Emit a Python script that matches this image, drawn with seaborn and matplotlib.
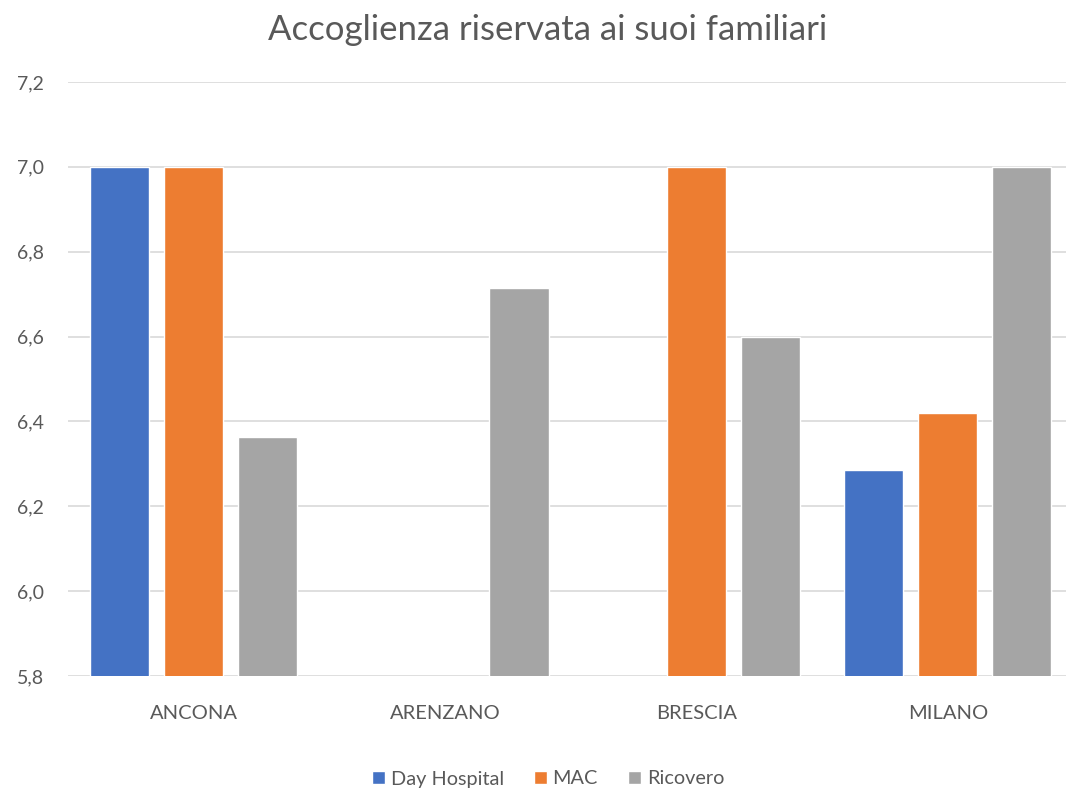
import numpy as np
import pandas as pd
import matplotlib
matplotlib.use("Agg")
import matplotlib.pyplot as plt
import seaborn as sns
from matplotlib.ticker import FuncFormatter, MultipleLocator

# dati
sedi = ["ANCONA", "ARENZANO", "BRESCIA", "MILANO"]
day_hospital = [7.0, np.nan, np.nan, 6.286]
mac = [7.0, np.nan, 7.0, 6.421]
ricovero = [6.364, 6.714, 6.6, 7.0]
serie = ["Day Hospital", "MAC", "Ricovero"]
colori = ["#4472C4", "#ED7D31", "#A5A5A5"]

df = pd.DataFrame({
    "sede": sedi * 3,
    "serie": [s for s in serie for _ in sedi],
    "valore": day_hospital + mac + ricovero,
}).dropna()

sns.set_style("white")
plt.rcParams["font.family"] = ["Lato", "DejaVu Sans"]

fig = plt.figure(figsize=(10.66, 7.92), dpi=100)
ax = fig.add_axes([67.9 / 1066, 116 / 792, 1005.7 / 1066, 594 / 792])

sns.barplot(data=df, x="sede", y="valore", hue="serie", order=sedi,
            hue_order=serie, palette=colori, width=0.883, gap=0.2,
            saturation=1, ax=ax, legend=True, errorbar=None)

ax.set_ylim(5.8, 7.2)
ax.set_xlim(-0.5, 3.5)
ax.yaxis.set_major_locator(MultipleLocator(0.2))
ax.yaxis.set_major_formatter(FuncFormatter(lambda v, p: f"{v:.1f}".replace(".", ",")))
ax.grid(axis="y", color="#D9D9D9", linewidth=1.2)
ax.set_axisbelow(True)
for s in ax.spines.values():
    s.set_visible(False)
ax.tick_params(axis="y", length=0, pad=17, labelsize=14, labelcolor="#595959")
ax.tick_params(axis="x", length=0, pad=21, labelsize=14.5, labelcolor="#595959")
ax.set_xlabel("")
ax.set_ylabel("")

handles, labels = ax.get_legend_handles_labels()
ax.get_legend().remove()
fig.legend(handles, labels, loc="center", bbox_to_anchor=(548 / 1066, 1 - 779 / 792),
           ncol=3, frameon=False, fontsize=14.3, handlelength=0.65, handleheight=0.65,
           handletextpad=0.3, columnspacing=1.5, labelcolor="#595959")

fig.text(548 / 1066, 1 - 30 / 792, "Accoglienza riservata ai suoi familiari",
         ha="center", va="center", fontsize=25, color="#595959")

fig.savefig("out.png", dpi=100)
